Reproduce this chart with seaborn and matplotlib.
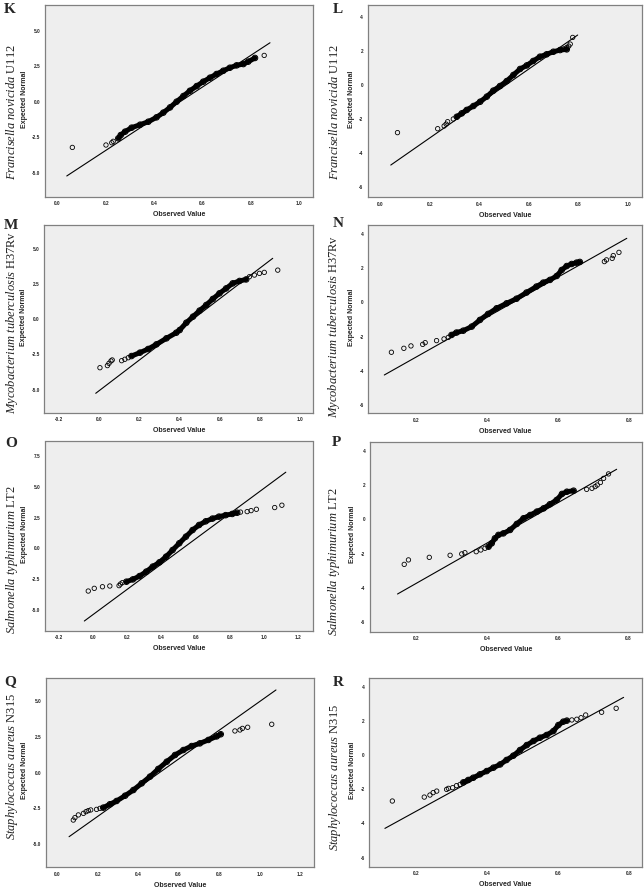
import matplotlib
matplotlib.use('Agg')
import matplotlib.pyplot as plt
import seaborn as sns
import numpy as np

# K - Francisella, set 1
k_band_x = [0.252, 0.262, 0.280, 0.307, 0.342, 0.376, 0.410, 0.438, 0.466, 0.493, 0.521, 0.548,
            0.576, 0.603, 0.631, 0.658, 0.686, 0.713, 0.741, 0.769, 0.789, 0.817]
k_band_y = [-2.58, -2.35, -2.11, -1.83, -1.62, -1.41, -1.10, -0.77, -0.40, 0.00, 0.40, 0.77,
            1.10, 1.41, 1.69, 1.95, 2.18, 2.39, 2.56, 2.65, 2.82, 3.08]
k_pts_x = [0.062, 0.201, 0.225, 0.231, 0.855]
k_pts_y = [-3.22, -3.05, -2.89, -2.79, 3.26]
k_line_x = [0.039, 0.879]
k_line_y = [-5.23, 4.15]

# L - Francisella, set 2
l_band_x = [0.309, 0.329, 0.349, 0.376, 0.403, 0.430, 0.456, 0.483, 0.510, 0.537, 0.564, 0.591,
            0.617, 0.644, 0.671, 0.698, 0.725, 0.752]
l_band_y = [-1.86, -1.66, -1.46, -1.23, -0.98, -0.68, -0.33, -0.06, 0.23, 0.59, 0.94, 1.15,
            1.41, 1.66, 1.80, 1.95, 2.05, 2.09]
l_pts_x = [0.070, 0.232, 0.258, 0.266, 0.272, 0.295, 0.740, 0.752, 0.760, 0.766, 0.776]
l_pts_y = [-2.79, -2.56, -2.40, -2.29, -2.15, -1.99, 2.12, 2.20, 2.28, 2.40, 2.79]
l_line_x = [0.043, 0.796]
l_line_y = [-4.69, 2.93]

# M - Mycobacterium, set 1
m_band_x = [0.160, 0.202, 0.243, 0.284, 0.334, 0.383, 0.400, 0.433, 0.466, 0.499, 0.532, 0.565,
            0.598, 0.631, 0.664, 0.698, 0.731]
m_band_y = [-2.61, -2.37, -2.11, -1.78, -1.35, -0.95, -0.76, -0.24, 0.19, 0.62, 1.02, 1.45,
            1.85, 2.20, 2.56, 2.73, 2.84]
m_pts_x = [0.003, 0.040, 0.048, 0.058, 0.064, 0.111, 0.127, 0.144, 0.747, 0.772, 0.797, 0.821, 0.888]
m_pts_y = [-3.44, -3.29, -3.13, -2.96, -2.89, -2.94, -2.84, -2.73, 3.03, 3.15, 3.27, 3.34, 3.50]
m_line_x = [-0.018, 0.863]
m_line_y = [-5.26, 4.34]

# N - Mycobacterium, set 2
n_band_x = [0.300, 0.314, 0.333, 0.357, 0.380, 0.403, 0.427, 0.455, 0.483, 0.511, 0.539, 0.558,
            0.577, 0.596, 0.610, 0.624, 0.638, 0.652, 0.661]
n_band_y = [-1.91, -1.77, -1.66, -1.42, -1.03, -0.68, -0.35, -0.06, 0.21, 0.57, 0.92, 1.15,
            1.31, 1.54, 1.89, 2.12, 2.24, 2.32, 2.36]
n_pts_x = [0.131, 0.166, 0.186, 0.219, 0.226, 0.258, 0.279, 0.291, 0.730, 0.736, 0.752, 0.755, 0.771]
n_pts_y = [-2.92, -2.69, -2.55, -2.46, -2.36, -2.24, -2.14, -2.05, 2.38, 2.48, 2.57, 2.73, 2.92]
n_line_x = [0.111, 0.793]
n_line_y = [-4.25, 3.74]

# O - Salmonella, set 1
o_band_x = [0.194, 0.232, 0.271, 0.310, 0.348, 0.387, 0.426, 0.464, 0.503, 0.542, 0.581, 0.619,
            0.658, 0.697, 0.735, 0.774, 0.813, 0.842]
o_band_y = [-2.72, -2.53, -2.26, -1.90, -1.49, -1.14, -0.68, -0.14, 0.41, 0.95, 1.49, 1.90,
            2.20, 2.42, 2.58, 2.70, 2.80, 2.90]
o_pts_x = [-0.029, 0.006, 0.054, 0.097, 0.151, 0.159, 0.170, 0.861, 0.900, 0.923, 0.954, 1.061, 1.103]
o_pts_y = [-3.48, -3.26, -3.13, -3.07, -3.04, -2.91, -2.80, 2.95, 2.99, 3.07, 3.18, 3.32, 3.51]
o_line_x = [-0.052, 1.126]
o_line_y = [-5.92, 6.20]

# P - Salmonella, set 2
p_band_x = [0.404, 0.413, 0.422, 0.432, 0.446, 0.465, 0.484, 0.503, 0.522, 0.541, 0.560, 0.578,
            0.597, 0.612, 0.626, 0.645]
p_band_y = [-1.60, -1.40, -1.11, -0.91, -0.82, -0.62, -0.27, 0.06, 0.25, 0.45, 0.64, 0.88,
            1.13, 1.48, 1.61, 1.67]
p_pts_x = [0.165, 0.177, 0.236, 0.295, 0.328, 0.337, 0.369, 0.382, 0.394,
           0.682, 0.697, 0.706, 0.712, 0.721, 0.730, 0.744]
p_pts_y = [-2.63, -2.37, -2.22, -2.10, -2.02, -1.95, -1.89, -1.79, -1.69,
           1.75, 1.81, 1.91, 2.00, 2.15, 2.39, 2.65]
p_line_x = [0.146, 0.767]
p_line_y = [-4.36, 2.92]

# Q - Staphylococcus, set 1
q_band_x = [0.227, 0.260, 0.293, 0.335, 0.376, 0.417, 0.458, 0.499, 0.541, 0.582, 0.623, 0.664,
            0.705, 0.747, 0.788, 0.808]
q_band_y = [-2.46, -2.22, -1.99, -1.62, -1.22, -0.75, -0.28, 0.26, 0.77, 1.24, 1.59, 1.87,
            2.06, 2.30, 2.55, 2.70]
q_pts_x = [0.079, 0.087, 0.104, 0.129, 0.142, 0.153, 0.165, 0.194, 0.211, 0.878, 0.903, 0.915, 0.941, 1.060]
q_pts_y = [-3.33, -3.16, -2.97, -2.86, -2.74, -2.67, -2.62, -2.58, -2.51, 2.93, 3.00, 3.11, 3.19, 3.40]
q_line_x = [0.058, 1.081]
q_line_y = [-4.50, 5.81]

# R - Staphylococcus, set 2
r_band_x = [0.332, 0.346, 0.360, 0.379, 0.398, 0.417, 0.436, 0.454, 0.473, 0.492, 0.511, 0.530,
            0.548, 0.567, 0.586, 0.600, 0.614, 0.624]
r_band_y = [-1.60, -1.46, -1.33, -1.13, -0.94, -0.74, -0.55, -0.29, -0.04, 0.29, 0.58, 0.82,
            1.01, 1.17, 1.40, 1.75, 1.95, 2.01]
r_pts_x = [0.132, 0.222, 0.238, 0.247, 0.257, 0.285, 0.290, 0.302, 0.313, 0.323,
           0.638, 0.652, 0.664, 0.677, 0.722, 0.763]
r_pts_y = [-2.69, -2.46, -2.34, -2.20, -2.11, -2.01, -1.95, -1.91, -1.79, -1.72,
           2.05, 2.09, 2.18, 2.34, 2.50, 2.73]
r_line_x = [0.111, 0.784]
r_line_y = [-4.29, 3.37]

species = ['Francisella novicida', 'Mycobacterium tuberculosis', 'Salmonella typhimurium', 'Staphylococcus aureus']
strains = ['U112', 'H37Rv', 'LT2', 'N315']

sns.set_style('white')
plt.rcParams['font.family'] = ['Liberation Sans', 'DejaVu Sans']
plt.rcParams['axes.unicode_minus'] = False
plt.rcParams['mathtext.fontset'] = 'custom'
plt.rcParams['mathtext.rm'] = 'Liberation Serif'
plt.rcParams['mathtext.it'] = 'Liberation Serif:italic'

W, H = 644, 890
fig = plt.figure(figsize=(6.44, 8.90), dpi=100)


def px_rect(l, t, r, b):
    return [l / W, 1 - b / H, (r - l) / W, (b - t) / H]


def panel(box, letter, letter_xy, sp, strain, lab_x, lab_y, ylab_x,
          band_x, band_y, pts_x, pts_y, line_x, line_y, xlim, ylim, xticks, yticks, xfmt, yfmt):
    ax = fig.add_axes(px_rect(*box))
    ax.set_facecolor('#eeeeee')
    sns.lineplot(x=line_x, y=line_y, ax=ax, color='black', linewidth=0.8, sort=False, estimator=None)
    # the dense run of overlapping circles reads as a thick black band
    sns.lineplot(x=band_x, y=band_y, ax=ax, color='black', linewidth=3.6, sort=False, estimator=None,
                 solid_capstyle='round')
    sns.scatterplot(x=band_x, y=band_y, ax=ax, marker='o', s=16, facecolor='none',
                    edgecolor='black', linewidth=0.7)
    sns.scatterplot(x=pts_x, y=pts_y, ax=ax, marker='o', s=10, facecolor='none',
                    edgecolor='black', linewidth=0.6)
    ax.set_xlim(*xlim)
    ax.set_ylim(*ylim)
    ax.set_xticks(xticks)
    ax.set_yticks(yticks)
    ax.set_xticklabels([xfmt.format(v) for v in xticks])
    ax.set_yticklabels([yfmt.format(v) for v in yticks])
    ax.tick_params(length=1.8, width=0.6, pad=1.5, labelsize=3.4, color='#333333')
    for t in ax.get_xticklabels() + ax.get_yticklabels():
        t.set_fontweight('bold')
    ax.set_xlabel('')
    ax.set_ylabel('')
    for s in ax.spines.values():
        s.set_color('#808080')
        s.set_linewidth(0.9)

    l, t, r, b = box
    fig.text((l + r) / 2 / W, 1 - (b + 18) / H, 'Observed Value', ha='center', va='center',
             fontsize=5, fontweight='bold')
    fig.text(ylab_x / W, 1 - ((t + b) / 2 - 2) / H, 'Expected Normal', rotation=90,
             ha='center', va='center', fontsize=5, fontweight='bold')
    fig.text(lab_x / W, 1 - lab_y / H,
             r'$\mathit{' + sp.replace(' ', r'\ ') + r'}\ \mathrm{' + strain + '}$',
             rotation=90, ha='center', va='center', fontsize=9, color='#222222')
    fig.text(letter_xy[0] / W, 1 - letter_xy[1] / H, letter, ha='left', va='top',
             fontsize=11, fontweight='bold', family='Liberation Serif')
    return ax


x01 = [0.0, 0.2, 0.4, 0.6, 0.8, 1.0]
x_m = [-0.2, 0.0, 0.2, 0.4, 0.6, 0.8, 1.0]
x_o = [-0.2, 0.0, 0.2, 0.4, 0.6, 0.8, 1.0, 1.2]
x_q = [0.0, 0.2, 0.4, 0.6, 0.8, 1.0, 1.2]
x_n = [0.2, 0.4, 0.6, 0.8]
y_big = [-5.0, -2.5, 0.0, 2.5, 5.0]
y_o = [-5.0, -2.5, 0.0, 2.5, 5.0, 7.5]
y_int = [-6, -4, -2, 0, 2, 4]

panel((45, 5, 313.3, 196.7), 'K', (4, 3), species[0], strains[0], 12, 112, 24,
      k_band_x, k_band_y, k_pts_x, k_pts_y, k_line_x, k_line_y,
      (-0.051, 1.058), (-6.69, 6.81), x01, y_big, '{:.1f}', '{:.1f}')
panel((367.7, 5, 641.7, 197.3), 'L', (333, 3), species[0], strains[0], 335, 112, 351.7,
      l_band_x, l_band_y, l_pts_x, l_pts_y, l_line_x, l_line_y,
      (-0.050, 1.054), (-6.58, 4.69), x01, y_int, '{:.1f}', '{:d}')
panel((44.3, 225, 313.3, 412.7), 'M', (4, 219), species[1], strains[1], 12, 323, 23.3,
      m_band_x, m_band_y, m_pts_x, m_pts_y, m_line_x, m_line_y,
      (-0.274, 1.065), (-6.64, 6.71), x_m, y_big, '{:.1f}', '{:.1f}')
panel((368.3, 225, 641.7, 413.3), 'N', (333, 217), species[1], strains[1], 334, 327, 351.7,
      n_band_x, n_band_y, n_pts_x, n_pts_y, n_line_x, n_line_y,
      (0.066, 0.835), (-6.49, 4.52), x_n, y_int, '{:.1f}', '{:d}')
panel((45, 441.5, 313, 630.7), 'O', (5, 437), species[2], strains[2], 12, 560, 24,
      o_band_x, o_band_y, o_pts_x, o_pts_y, o_line_x, o_line_y,
      (-0.282, 1.285), (-6.71, 8.70), x_o, y_o, '{:.1f}', '{:.1f}')
panel((370, 441.7, 641.7, 631.7), 'P', (332, 436), species[2], strains[2], 334, 562, 352,
      p_band_x, p_band_y, p_pts_x, p_pts_y, p_line_x, p_line_y,
      (0.068, 0.838), (-6.56, 4.53), x_n, y_int, '{:.1f}', '{:d}')
panel((46, 678.3, 314, 867.3), 'Q', (4, 675), species[3], strains[3], 12, 766, 25,
      q_band_x, q_band_y, q_pts_x, q_pts_y, q_line_x, q_line_y,
      (-0.056, 1.269), (-6.65, 6.63), x_q, y_big, '{:.1f}', '{:.1f}')
panel((369.3, 677.7, 641.7, 866.7), 'R', (333, 676), species[3], strains[3], 335, 777, 352,
      r_band_x, r_band_y, r_pts_x, r_pts_y, r_line_x, r_line_y,
      (0.067, 0.835), (-6.53, 4.52), x_n, y_int, '{:.1f}', '{:d}')

fig.savefig('out.png', dpi=100)
